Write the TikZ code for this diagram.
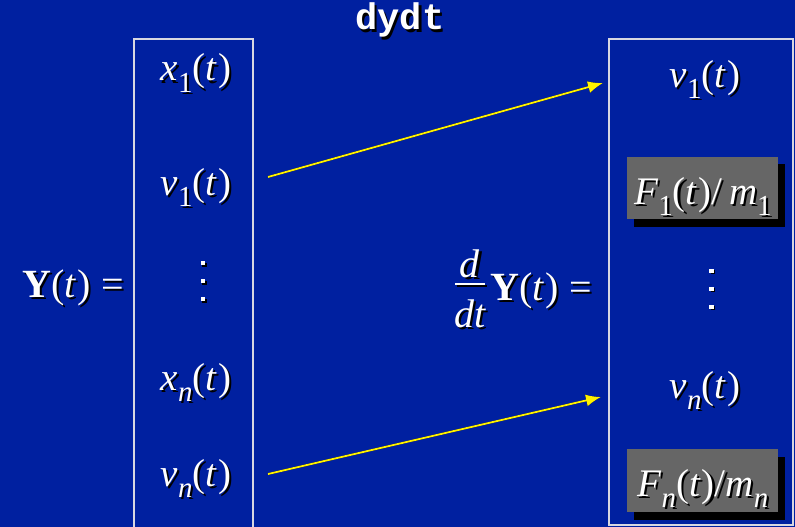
\documentclass[tikz,border=0pt]{standalone}
\usepackage{fontspec}
\setmainfont{Liberation Serif}
\newfontfamily\monob{Liberation Mono}
\usetikzlibrary{arrows.meta}
\definecolor{bg}{RGB}{0,32,160}
\definecolor{fgray}{RGB}{102,102,102}
\definecolor{edge}{RGB}{215,215,225}
\newcommand\sbn[1]{\raisebox{-0.3em}{\fontsize{29}{29}\selectfont #1}}
\newcommand\vq[2]{\textit{#1}\sbn{#2}(\textit{t\kern0.05em})}
\newcommand\shd[1]{\makebox[0pt][l]{\kern2.2pt\raisebox{-2.2pt}{\color{black}#1}}#1}
\newcommand\vdotsq[2]{%
  \foreach \dy in {0,18,36}{
    \fill[black] (#1+1.5,#2+\dy+1.5) rectangle +(4.5,4);
    \fill[white] (#1,#2+\dy) rectangle +(4.5,4);}}
\begin{document}
\begin{tikzpicture}[x=1pt,y=-1pt,
  txt/.style={text=white,inner sep=0pt,anchor=base,font=\fontsize{39}{41}\selectfont},
  big/.style={font=\fontsize{40}{42}\selectfont},
  boxline/.style={draw=edge,line width=1.8pt},
  arr/.style={draw=yellow,line width=1.8pt,-{Latex[length=15pt,width=12pt]}},
  arrsh/.style={draw=black,line width=1.8pt,-{Latex[length=15pt,width=12pt]},xshift=1.5pt,yshift=-1.5pt}]
\fill[bg] (0,0) rectangle (795,527);
\useasboundingbox (0,0) rectangle (795,527);
% title
\node[txt,font=\monob\bfseries\fontsize{37}{40}\selectfont] (title) at (400,30) {\shd{dydt}};
% boxes
\draw[boxline] (134,528) -- (134,39) -- (253,39) -- (253,528);
\draw[boxline] (609,39) rectangle (793,525);
% left column
\node[txt,big] (Yl) at (73,297) {\shd{\textbf{Y}(\textit{t\kern0.05em}) =}};
\node[txt] (lx1) at (196,81) {\shd{\vq{x}{1}}};
\node[txt] (lv1) at (196,195) {\shd{\vq{v}{1}}};
\vdotsq{200.5}{261}
\node[txt] (lxn) at (196,390) {\shd{\vq{x}{\textit{n}}}};
\node[txt] (lvn) at (196,486) {\shd{\vq{v}{\textit{n}}}};
% derivative
\node[txt,big] (dnum) at (470,277) {\shd{\textit{d}}};
\fill[black] (456.5,284.5) rectangle (486.5,286.5);
\fill[white] (455,283) rectangle (485,285);
\node[txt,big] (dden) at (470,327) {\shd{\textit{dt}}};
\node[txt,big] (Yr) at (541,300) {\shd{\textbf{Y}(\textit{t\kern0.05em}) =}};
% right column
\node[txt] (rv1) at (705,87) {\shd{\vq{v}{1}}};
\fill[black] (634,164) rectangle (785,227);
\fill[fgray] (627,157) rectangle (778,219);
\node[txt] (rF1) at (703,204) {\shd{\textit{F}\sbn{1}(\textit{t\kern0.05em})/\,\textit{m}\sbn{1}}};
\vdotsq{709}{268.5}
\node[txt] (rvn) at (705,398) {\shd{\vq{v}{\textit{n}}}};
\fill[black] (634,457) rectangle (785,520);
\fill[fgray] (627,449) rectangle (778,512);
\node[txt] (rFn) at (703,496) {\shd{\textit{F}\sbn{\textit{n}}(\textit{t\kern0.05em})/\textit{m}\sbn{\textit{n}}}};
% arrows
\coordinate (a1s) at (268,177);
\coordinate (a1e) at (603,83);
\coordinate (a2s) at (268,474);
\coordinate (a2e) at (601,397);
\draw[arrsh] (a1s) -- (a1e);
\draw[arr] (a1s) -- (a1e);
\draw[arrsh] (a2s) -- (a2e);
\draw[arr] (a2s) -- (a2e);
\end{tikzpicture}
\end{document}
